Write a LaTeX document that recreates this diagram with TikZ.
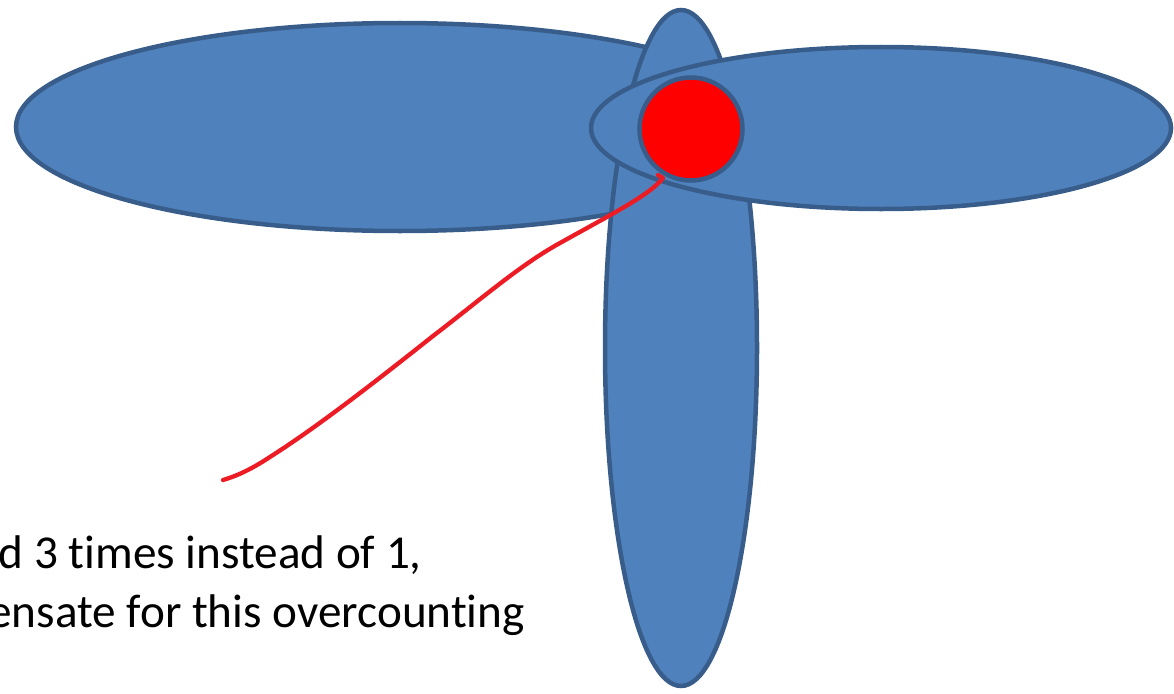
\documentclass[tikz,border=0pt]{standalone}
\usepackage{fontspec}
\setmainfont{Carlito}[Ligatures={NoCommon}]
\usetikzlibrary{shapes.geometric}
\definecolor{bfill}{HTML}{4F81BD}
\definecolor{bline}{HTML}{385D8A}
\definecolor{pen}{HTML}{ED1C24}
\tikzset{
  petal/.style={ellipse, draw=bline, fill=bfill, line width=4.5pt, inner sep=0pt},
  core/.style={circle, draw=bline, fill=red, line width=4.5pt, inner sep=0pt},
  note/.style={font=\fontsize{47.2}{57}\selectfont, inner sep=0pt, text=black},
  scribble/.style={draw=pen, line width=4.3pt, line cap=round, line join=round}
}
\begin{document}
\begin{tikzpicture}[x=1pt,y=-1pt]
\useasboundingbox (0,0) rectangle (1174,693);
\node[petal, minimum width=768pt, minimum height=208pt] (left) at (400,127) {};
\node[petal, minimum width=152pt, minimum height=676pt] (vert) at (681,348) {};
\node[petal, minimum width=580pt, minimum height=162pt] (right) at (881,128) {};
\node[core, minimum size=103pt] (red) at (691,129) {};
\coordinate (head) at (658,175);
\coordinate (tail) at (223,480);
\draw[scribble] (head) -- (663,178) .. controls (650,195) and (610,215) .. (560,243)
  .. controls (520,265) and (480,300) .. (433,336)
  .. controls (380,378) and (320,425) .. (273,455)
  .. controls (255,467) and (240,475) .. (tail);
\node[note, anchor=base east] (line1) at (422,568) {d 3 times instead of 1,};
\node[note, anchor=base east] (line2) at (525,627) {ensate for this overcounting};
\end{tikzpicture}
\end{document}
